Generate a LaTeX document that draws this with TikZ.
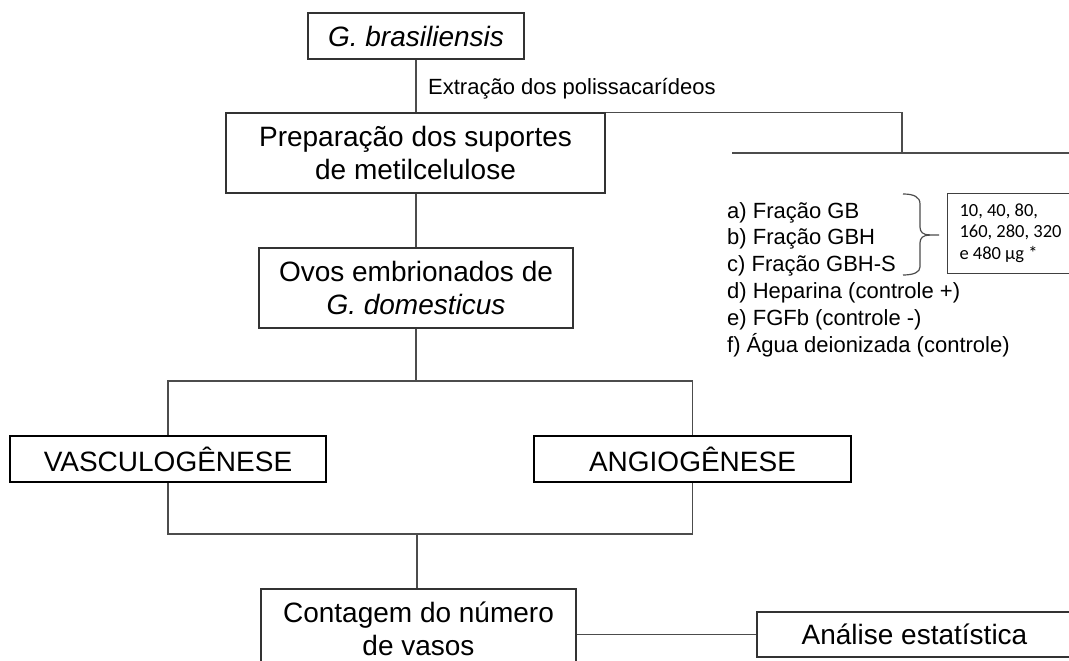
\documentclass[tikz,border=0pt]{standalone}
\usepackage{fontspec}
\setmainfont{Liberation Sans}
\newfontfamily\calibrifont{Carlito}
\begin{document}
\begin{tikzpicture}[x=1pt,y=-1pt,
  box/.style={draw=black!80, line width=1.2pt, rectangle, inner sep=0pt,
    align=center, font=\fontsize{28}{33}\selectfont},
  boldbox/.style={box, draw=black, line width=2.4pt},
  link/.style={draw=black!70, line width=1.2pt},
  smalltext/.style={anchor=base west, inner sep=0pt, font=\fontsize{22}{26}\selectfont},
  dosebox/.style={draw=black!75, line width=1pt, rectangle, inner sep=0pt,
    align=left, font=\calibrifont\fontsize{18.5}{21.5}\selectfont},
]
\useasboundingbox (0,0) rectangle (1069,661);
\clip (0,0) rectangle (1069,661);

% main column
\node[box, minimum width=216, minimum height=46] (gb) at (416,36) {\itshape G. brasiliensis};
\node[box, minimum width=379, minimum height=80] (prep) at (415.5,153) {Preparação dos suportes\\de metilcelulose};
\node[box, minimum width=314, minimum height=80] (ovos) at (416,288) {Ovos embrionados de\\\textit{G. domesticus}};
\node[boldbox, minimum width=316, minimum height=46] (vasc) at (168,459) {VASCULOGÊNESE};
\node[boldbox, minimum width=317, minimum height=46] (angio) at (692.5,459) {ANGIOGÊNESE};
\node[box, minimum width=315, minimum height=80] (cont) at (418.5,629) {Contagem do número\\de vasos};
\node[box, minimum width=315, minimum height=45] (anal) at (914.5,634.5) {Análise estatística};

\node[smalltext] (ext) at (428,95) {Extração dos polissacarídeos};

% treatments
\foreach \t [count=\i] in {a) Fração GB, b) Fração GBH, c) Fração GBH-S,
    d) Heparina (controle +), e) FGFb (controle -), f) Água deionizada (controle)}
  \node[smalltext] (item\i) at (727,{218+26.8*(\i-1)}) {\t};

\node[dosebox, minimum width=126, minimum height=80, anchor=west] (dose) at (947,233)
  {10, 40, 80,\\160, 280, 320\\e 480 µg *};

% brace grouping the three fractions
\coordinate (bracetip) at (939,235);
\draw[link] (903,194) .. controls (914,194) and (920,197) .. (920,204) -- (920,227)
  .. controls (920,232) and (923,235) .. (930,235) -- (bracetip);
\draw[link] (930,235) .. controls (923,235) and (920,238) .. (920,243) -- (920,267)
  .. controls (920,272) and (914,275) .. (903,275);

% connectors
\draw[link] (gb.south) -- (gb.south |- prep.north);
\coordinate (rc) at (902,153);
\draw[link] (prep.north east) -| (rc);
\coordinate (rl) at (732,153);
\coordinate (rr) at (1075,153);
\draw[link] (rl) -- (rr);
\draw[link] (ovos.north |- prep.south) -- (ovos.north);
\coordinate (fork) at (416,381);
\draw[link] (ovos.south) -- (fork);
\draw[link] (vasc.north) |- (fork) -| (angio.north);
\coordinate (join) at (417,534);
\draw[link] (vasc.south) |- (join) -| (angio.south);
\draw[link] (join) -- (join |- cont.north);
\draw[link] (cont.east |- anal.west) -- (anal.west);
\end{tikzpicture}
\end{document}
